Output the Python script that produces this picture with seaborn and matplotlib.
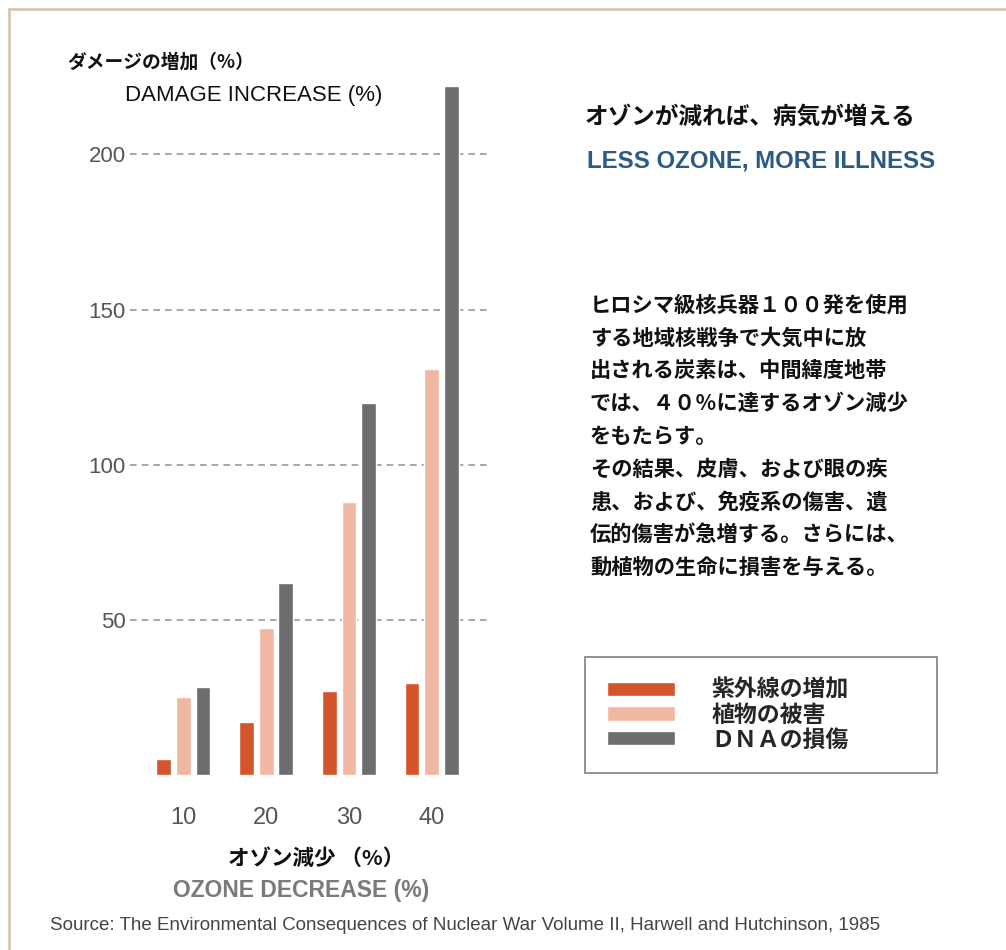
import matplotlib
matplotlib.use("Agg")
import matplotlib.pyplot as plt
import seaborn as sns
import pandas as pd
from matplotlib.lines import Line2D
from matplotlib.font_manager import FontProperties

# ---- data ----
ozone_decrease = ["10", "20", "30", "40"]
series_names = ["紫外線の増加", "植物の被害", "ＤＮＡの損傷"]
uv_increase = [5, 17, 27, 29.5]
plant_damage = [25, 47.5, 88, 131]
dna_damage = [28.5, 62, 120, 222]
y_ticks = [50, 100, 150, 200]
colors = ["#d4542b", "#f0b7a2", "#6d6d6f"]

paragraph = [
    "ヒロシマ級核兵器１００発を使用",
    "する地域核戦争で大気中に放",
    "出される炭素は、中間緯度地帯",
    "では、４０％に達するオゾン減少",
    "をもたらす。",
    "その結果、皮膚、および眼の疾",
    "患、および、免疫系の傷害、遺",
    "伝的傷害が急増する。さらには、",
    "動植物の生命に損害を与える。",
]

W, H = 1006, 950
sns.set_theme(style="white")
plt.rcParams["font.family"] = ["Liberation Sans", "DejaVu Sans"]
JP = ["Noto Sans CJK JP", "DejaVu Sans"]


def fx(px):
    return px / W


def fy(py):
    return 1 - py / H


fig = plt.figure(figsize=(W / 100, H / 100), dpi=100)
fig.patch.set_facecolor("white")

ax = fig.add_axes([fx(130), fy(775), fx(490) - fx(130), fy(80) - fy(775)])
df = pd.DataFrame({
    "ozone": ozone_decrease * 3,
    "value": uv_increase + plant_damage + dna_damage,
    "type": [n for n in series_names for _ in ozone_decrease],
})
sns.barplot(data=df, x="ozone", y="value", hue="type", order=ozone_decrease,
            hue_order=series_names, palette=colors, saturation=1,
            width=0.72, gap=0.25, ax=ax, errorbar=None)
ax.set_xlim(-0.64, 3.70)
ax.set_ylim(0, 224)
ax.set_yticks(y_ticks)
ax.set_xlabel("")
ax.set_ylabel("")
for s in ax.spines.values():
    s.set_visible(False)
ax.yaxis.grid(True, linestyle=(0, (4, 3)), color="#9a9a9a", linewidth=1.2)
ax.xaxis.grid(False)
ax.set_axisbelow(True)
ax.tick_params(axis="y", length=0, pad=3, labelsize=16, labelcolor="#555555")
ax.tick_params(axis="x", length=0, pad=23, labelsize=17, labelcolor="#555555")
ax.set_facecolor("white")

# legend
fs_leg = 16.5
px_leg = fs_leg * 100 / 72
sns.move_legend(
    ax, loc="upper left",
    bbox_to_anchor=(fx(585), fy(772), fx(937) - fx(585), fy(657) - fy(772)),
    bbox_transform=fig.transFigure, mode="expand", title=None,
    frameon=True, fancybox=False, edgecolor="#8a8a8a", framealpha=1,
    prop=FontProperties(family=JP, weight="bold", size=fs_leg),
    handlelength=68 / px_leg, handleheight=13 / px_leg,
    handletextpad=37 / px_leg, labelspacing=0.08, borderpad=0.95,
    borderaxespad=0,
)
ax.get_legend().get_frame().set_linewidth(1.3)

# axis titles
fig.text(fx(67), fy(62), "ダメージの増加（%）", family=JP, weight="bold",
         fontsize=13.5, color="#111111", va="center", ha="left")
fig.text(fx(125), fy(95), "DAMAGE INCREASE (%)", fontsize=16,
         color="#111111", va="center", ha="left")
fig.text(fx(316), fy(858), "オゾン減少 （%）", family=JP, weight="bold",
         fontsize=15.5, color="#111111", va="center", ha="center")
fig.text(fx(301), fy(890), "OZONE DECREASE (%)", weight="bold",
         fontsize=16.5, color="#7a7a7a", va="center", ha="center")
fig.text(fx(50), fy(925),
         "Source: The Environmental Consequences of Nuclear War Volume II, Harwell and Hutchinson, 1985",
         fontsize=13.5, color="#444444", va="center", ha="left")

# right-side text
fig.text(fx(585), fy(117), "オゾンが減れば、病気が増える", family=JP, weight="bold",
         fontsize=17, color="#111111", va="center", ha="left")
fig.text(fx(587), fy(161), "LESS OZONE, MORE ILLNESS", weight="bold",
         fontsize=17.3, color="#2b5a86", va="center", ha="left")
for i, line in enumerate(paragraph):
    fig.text(fx(590), fy(305 + i * 32.8), line, family=JP, weight="bold",
             fontsize=15.3, color="#111111", va="center", ha="left")

# frame
fig.add_artist(Line2D([fx(9), 1.0], [fy(9), fy(9)], transform=fig.transFigure,
                      color="#d9c3b7", linewidth=2))
fig.add_artist(Line2D([fx(9), fx(9)], [fy(9), 0.0], transform=fig.transFigure,
                      color="#d9c3b7", linewidth=2))

fig.savefig("out.png", dpi=100, facecolor="white")
